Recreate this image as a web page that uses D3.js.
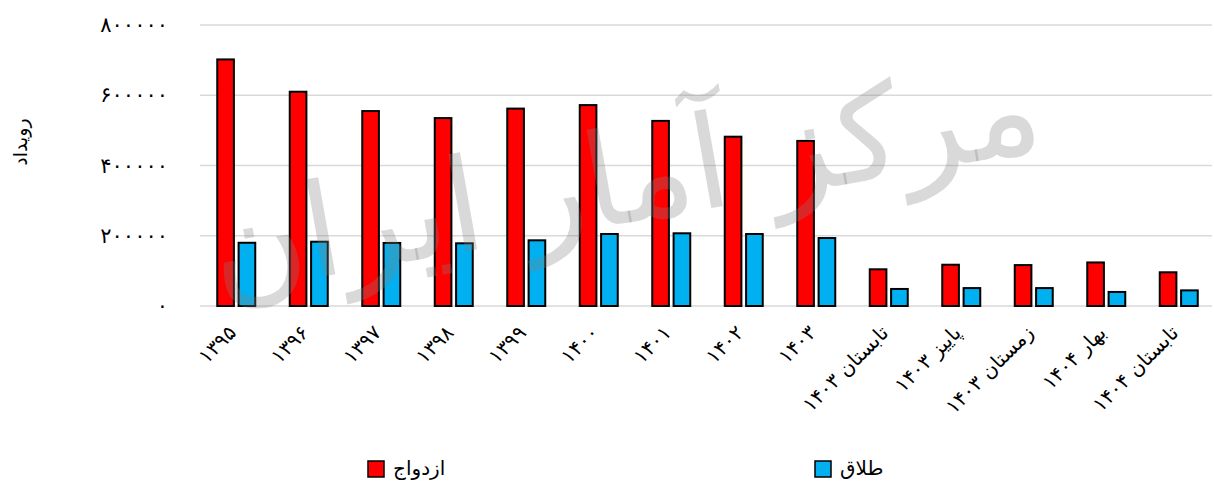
<!DOCTYPE html>
<html>
<head>
<meta charset="utf-8">
<script src="https://cdn.jsdelivr.net/npm/d3@7"></script>
<style>
  html, body { margin: 0; padding: 0; background: #fff; }
  svg { display: block; }
  text { font-family: "DejaVu Sans", sans-serif; }
</style>
</head>
<body>
<svg id="chart" width="1214" height="482"></svg>
<script>
// ---- data ----
const categories = ["۱۳۹۵", "۱۳۹۶", "۱۳۹۷", "۱۳۹۸", "۱۳۹۹", "۱۴۰۰", "۱۴۰۱", "۱۴۰۲", "۱۴۰۳",
  "تابستان ۱۴۰۳", "پاییز ۱۴۰۳", "زمستان ۱۴۰۳", "بهار ۱۴۰۴", "تابستان ۱۴۰۴"];
const seriesNames = ["ازدواج", "طلاق"];
const marriage = [702000, 610000, 555000, 535000, 562000, 572000, 527000, 482000, 470000,
  104500, 117500, 116500, 124000, 96000];
const divorce = [180000, 183000, 179500, 178500, 187000, 205000, 207000, 205000, 193500,
  48500, 51000, 51000, 40000, 44500];
const yTicks = [0, 200000, 400000, 600000, 800000];
const yTickLabels = ["۰", "۲۰۰۰۰۰", "۴۰۰۰۰۰", "۶۰۰۰۰۰", "۸۰۰۰۰۰"];
const yTitle = "رویداد";
const watermarkText = "مرکز آمار ایران";
const colors = ["#ff0000", "#00b0f0"];

// ---- chart ----
const svg = d3.select("#chart");
const x = d3.scaleBand().domain(categories).range([200, 1215]).padding(0);
const x1 = d3.scaleBand().domain(seriesNames).range([-19, 19]).paddingInner(0.22);
const y = d3.scaleLinear().domain([0, 800000]).range([306, 25]);

// gridlines
svg.append("g")
  .selectAll("line")
  .data(yTicks)
  .join("line")
  .attr("x1", 200).attr("x2", 1212)
  .attr("y1", d => y(d)).attr("y2", d => y(d))
  .attr("stroke", "#d9d9d9").attr("stroke-width", 1.5);

// watermark
const wm = svg.append("text")
  .attr("transform", "translate(632,222) rotate(-10)")
  .attr("text-anchor", "middle")
  .attr("font-size", 130)
  .attr("fill", "#808080")
  .attr("fill-opacity", 0.3)
  .text(watermarkText);

// y axis labels
const yAxis = d3.axisLeft(y).tickValues(yTicks)
  .tickFormat((d, i) => yTickLabels[i]).tickSize(0).tickPadding(0);
const gy = svg.append("g").attr("transform", "translate(168,0)").call(yAxis);
gy.select(".domain").remove();
gy.selectAll("text").attr("font-size", 21).attr("fill", "#000")
  .attr("font-family", "DejaVu Sans, sans-serif");

// y title
svg.append("text")
  .attr("transform", "translate(27,142) rotate(-90)")
  .attr("text-anchor", "middle")
  .attr("font-size", 19)
  .attr("fill", "#000")
  .text(yTitle);

// bars
const data = [marriage, divorce];
const groups = svg.append("g").selectAll("g")
  .data(categories)
  .join("g")
  .attr("transform", d => `translate(${x(d) + x.bandwidth() / 2},0)`);
groups.selectAll("rect")
  .data((d, i) => seriesNames.map((s, j) => ({ s, j, v: data[j][i] })))
  .join("rect")
  .attr("x", d => x1(d.s))
  .attr("width", x1.bandwidth())
  .attr("y", d => y(d.v))
  .attr("height", d => y(0) - y(d.v))
  .attr("fill", d => colors[d.j])
  .attr("stroke", "#000")
  .attr("stroke-width", 2);

// watermark overlays the bars
wm.raise();

// x labels
const xAxis = d3.axisBottom(x).tickSize(0).tickPadding(0);
const gx = svg.append("g").attr("transform", "translate(0,306)").call(xAxis);
gx.select(".domain").remove();
gx.selectAll("text")
  .attr("font-size", 20).attr("fill", "#000")
  .attr("font-family", "DejaVu Sans, sans-serif")
  .attr("text-anchor", "end")
  .attr("dy", 0)
  .attr("y", 0)
  .attr("transform", "translate(1,28) rotate(-45)");

// legend
const legendX = [368, 815];
const legend = svg.append("g").selectAll("g")
  .data(seriesNames)
  .join("g")
  .attr("transform", (d, i) => `translate(${legendX[i]},461)`);
legend.append("rect")
  .attr("width", 16).attr("height", 16)
  .attr("fill", (d, i) => colors[i])
  .attr("stroke", "#000").attr("stroke-width", 1.5);
legend.append("text")
  .attr("x", 25).attr("y", 14)
  .attr("font-size", 20).attr("fill", "#000")
  .text(d => d);
</script>
</body>
</html>
